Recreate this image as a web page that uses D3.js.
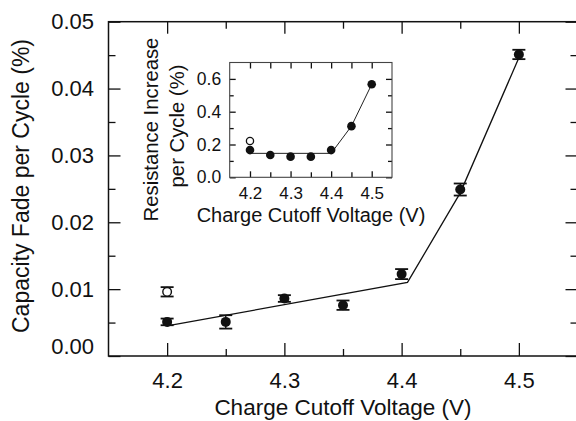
<!DOCTYPE html>
<html>
<head>
<meta charset="utf-8">
<script src="https://cdn.jsdelivr.net/npm/d3@7"></script>
<style>
  html, body { margin: 0; padding: 0; background: #fff; }
  svg { display: block; }
  text { font-family: "Liberation Sans", Arial, Helvetica, sans-serif; fill: #111; }
  .axis path.domain { display: none; }
  .axis line { stroke: #111; stroke-width: 1.3; }
</style>
</head>
<body>
<svg id="chart" width="576" height="421"></svg>
<script>
// Charge cutoff voltages (V)
const voltage = [4.2, 4.25, 4.3, 4.35, 4.4, 4.45, 4.5];
// Capacity fade per cycle (%) with error bars
const fade = [0.0051, 0.0051, 0.0086, 0.0076, 0.01225, 0.0249, 0.0451];
const fadeErr = [0.0005, 0.001, 0.0005, 0.0007, 0.00075, 0.0009, 0.0007];
// Open symbol at 4.2 V
const openVoltage = [4.2];
const openFade = [0.0096];
const openFadeErr = [0.0007];
const openResist = [0.221];
// Fitted trend for capacity fade
const fadeFitV = [4.2, 4.405, 4.45, 4.5];
const fadeFit = [0.0045, 0.011, 0.0244, 0.0446];
// Resistance increase per cycle (%) for the inset
const resist = [0.166, 0.136, 0.126, 0.126, 0.166, 0.312, 0.567];
const resistFitV = [4.2, 4.4, 4.45, 4.5];
const resistFit = [0.146, 0.146, 0.312, 0.567];
// Tick values
const xMajor = [4.2, 4.3, 4.4, 4.5];
const xMinor = [4.25, 4.35, 4.45];
const yMajor = [0, 0.01, 0.02, 0.03, 0.04, 0.05];
const yMinor = [0.005, 0.015, 0.025, 0.035, 0.045];
const insetXTicks = [4.2, 4.25, 4.3, 4.35, 4.4, 4.45, 4.5];
const insetYMajor = [0, 0.2, 0.4, 0.6];
const insetYMinor = [0.1, 0.3, 0.5];

const svg = d3.select("#chart");

// ---------- main panel ----------
const L = 108.5, R = 577.5, T = 21.7, B = 356;
const x = d3.scaleLinear().domain([4.15, 4.55]).range([L, R]);
const y = d3.scaleLinear().domain([0, 0.05]).range([B, T]);

const main = svg.append("g");

// bottom ticks + labels
main.append("g").attr("class", "axis").attr("transform", `translate(0,${B})`)
  .call(d3.axisBottom(x).tickValues(xMajor).tickSizeInner(-13).tickSizeOuter(0)
    .tickPadding(16.5).tickFormat(d3.format(".1f")))
  .call(g => g.selectAll("text").style("font-size", "22px"));
main.append("g").attr("class", "axis").attr("transform", `translate(0,${B})`)
  .call(d3.axisBottom(x).tickValues(xMinor).tickSizeInner(-7).tickSizeOuter(0).tickFormat(""));
// top ticks
main.append("g").attr("class", "axis").attr("transform", `translate(0,${T})`)
  .call(d3.axisTop(x).tickValues(xMajor).tickSizeInner(-12).tickSizeOuter(0).tickFormat(""));
main.append("g").attr("class", "axis").attr("transform", `translate(0,${T})`)
  .call(d3.axisTop(x).tickValues(xMinor).tickSizeInner(-7).tickSizeOuter(0).tickFormat(""));
// left ticks + labels
main.append("g").attr("class", "axis").attr("transform", `translate(${L},0)`)
  .call(d3.axisLeft(y).tickValues(yMajor).tickSizeInner(-12).tickSizeOuter(0)
    .tickPadding(14.5).tickFormat(d3.format(".2f")))
  .call(g => g.selectAll("text").style("font-size", "22px")
    .attr("dy", d => d === 0 ? "-0.1em" : "0.32em"));
main.append("g").attr("class", "axis").attr("transform", `translate(${L},0)`)
  .call(d3.axisLeft(y).tickValues(yMinor).tickSizeInner(-7).tickSizeOuter(0).tickFormat(""));
// right ticks
main.append("g").attr("class", "axis").attr("transform", `translate(${R},0)`)
  .call(d3.axisRight(y).tickValues(yMajor).tickSizeInner(-12).tickSizeOuter(0).tickFormat(""));
main.append("g").attr("class", "axis").attr("transform", `translate(${R},0)`)
  .call(d3.axisRight(y).tickValues(yMinor).tickSizeInner(-7).tickSizeOuter(0).tickFormat(""));

// frame
main.append("rect").attr("x", L).attr("y", T).attr("width", R - L).attr("height", B - T)
  .attr("fill", "none").attr("stroke", "#111").attr("stroke-width", 1.5);

// fitted line
const fitLine = d3.line().x((d, i) => x(fadeFitV[i])).y(d => y(d));
main.append("path").attr("d", fitLine(fadeFit))
  .attr("fill", "none").attr("stroke", "#111").attr("stroke-width", 1.3);

// error bars
function errorBars(g, xs, ys, es, xs_, ys_, cap) {
  const eb = g.append("g").attr("stroke", "#111").attr("stroke-width", 1.4);
  xs.forEach((v, i) => {
    const cx = xs_(v), y1 = ys_(ys[i] - es[i]), y2 = ys_(ys[i] + es[i]);
    eb.append("line").attr("x1", cx).attr("x2", cx).attr("y1", y1).attr("y2", y2);
    eb.append("line").attr("x1", cx - cap).attr("x2", cx + cap).attr("y1", y1).attr("y2", y1).attr("stroke-width", 1.8);
    eb.append("line").attr("x1", cx - cap).attr("x2", cx + cap).attr("y1", y2).attr("y2", y2).attr("stroke-width", 1.8);
  });
}
errorBars(main, voltage, fade, fadeErr, x, y, 6.5);
errorBars(main, openVoltage, openFade, openFadeErr, x, y, 6.5);

main.selectAll("circle.filled").data(voltage).join("circle").attr("class", "filled")
  .attr("cx", d => x(d)).attr("cy", (d, i) => y(fade[i])).attr("r", 5).attr("fill", "#111");
main.selectAll("circle.open").data(openVoltage).join("circle").attr("class", "open")
  .attr("cx", d => x(d)).attr("cy", (d, i) => y(openFade[i])).attr("r", 4.3)
  .attr("fill", "#fff").attr("stroke", "#111").attr("stroke-width", 1.4);

// axis titles
main.append("text").attr("x", 343).attr("y", 415).attr("text-anchor", "middle")
  .style("font-size", "22.5px").text("Charge Cutoff Voltage (V)");
main.append("text").attr("transform", "translate(29,186) rotate(-90)").attr("text-anchor", "middle")
  .style("font-size", "23px").text("Capacity Fade per Cycle (%)");

// ---------- inset ----------
const iL = 229.7, iR = 392, iT = 62.5, iB = 177.3;
const ix = d3.scaleLinear().domain([4.15, 4.55]).range([iL, iR]);
const iy = d3.scaleLinear().domain([0, 0.7]).range([iB, iT]);
const inset = svg.append("g");

inset.append("rect").attr("x", iL).attr("y", iT).attr("width", iR - iL).attr("height", iB - iT)
  .attr("fill", "#fff");

inset.append("g").attr("class", "axis inset").attr("transform", `translate(0,${iB})`)
  .call(d3.axisBottom(ix).tickValues(xMajor).tickSizeInner(-6).tickSizeOuter(0)
    .tickPadding(10).tickFormat(d3.format(".1f")))
  .call(g => g.selectAll("text").style("font-size", "17px"));
inset.append("g").attr("class", "axis inset").attr("transform", `translate(0,${iB})`)
  .call(d3.axisBottom(ix).tickValues(xMinor).tickSizeInner(-5).tickSizeOuter(0).tickFormat(""));
inset.append("g").attr("class", "axis inset").attr("transform", `translate(0,${iT})`)
  .call(d3.axisTop(ix).tickValues(insetXTicks).tickSizeInner(-6).tickSizeOuter(0).tickFormat(""));
inset.append("g").attr("class", "axis inset").attr("transform", `translate(${iL},0)`)
  .call(d3.axisLeft(iy).tickValues(insetYMajor).tickSizeInner(-6).tickSizeOuter(0)
    .tickPadding(8.5).tickFormat(d3.format(".1f")))
  .call(g => g.selectAll("text").style("font-size", "17.5px"));
inset.append("g").attr("class", "axis inset").attr("transform", `translate(${iL},0)`)
  .call(d3.axisLeft(iy).tickValues(insetYMinor).tickSizeInner(-4).tickSizeOuter(0).tickFormat(""));
inset.append("g").attr("class", "axis inset").attr("transform", `translate(${iR},0)`)
  .call(d3.axisRight(iy).tickValues(insetYMajor).tickSizeInner(-6).tickSizeOuter(0).tickFormat(""));
inset.append("g").attr("class", "axis inset").attr("transform", `translate(${iR},0)`)
  .call(d3.axisRight(iy).tickValues(insetYMinor).tickSizeInner(-4).tickSizeOuter(0).tickFormat(""));
inset.selectAll(".inset line").attr("stroke", "#333").attr("stroke-width", 1);

inset.append("rect").attr("x", iL).attr("y", iT).attr("width", iR - iL).attr("height", iB - iT)
  .attr("fill", "none").attr("stroke", "#444").attr("stroke-width", 1.1);

const iFit = d3.line().x((d, i) => ix(resistFitV[i])).y(d => iy(d));
inset.append("path").attr("d", iFit(resistFit))
  .attr("fill", "none").attr("stroke", "#222").attr("stroke-width", 1);

inset.selectAll("circle.filled").data(voltage).join("circle").attr("class", "filled")
  .attr("cx", d => ix(d)).attr("cy", (d, i) => iy(resist[i])).attr("r", 4.3).attr("fill", "#111");
inset.selectAll("circle.open").data(openVoltage).join("circle").attr("class", "open")
  .attr("cx", d => ix(d)).attr("cy", (d, i) => iy(openResist[i])).attr("r", 3.6)
  .attr("fill", "#fff").attr("stroke", "#111").attr("stroke-width", 1.3);

inset.append("text").attr("x", 311).attr("y", 222).attr("text-anchor", "middle")
  .style("font-size", "20px").text("Charge Cutoff Voltage (V)");
inset.append("text").attr("transform", "translate(157.5,129.5) rotate(-90)").attr("text-anchor", "middle")
  .style("font-size", "20.3px").text("Resistance Increase");
inset.append("text").attr("transform", "translate(184,126) rotate(-90)").attr("text-anchor", "middle")
  .style("font-size", "20.3px").text("per Cycle (%)");
</script>
</body>
</html>
